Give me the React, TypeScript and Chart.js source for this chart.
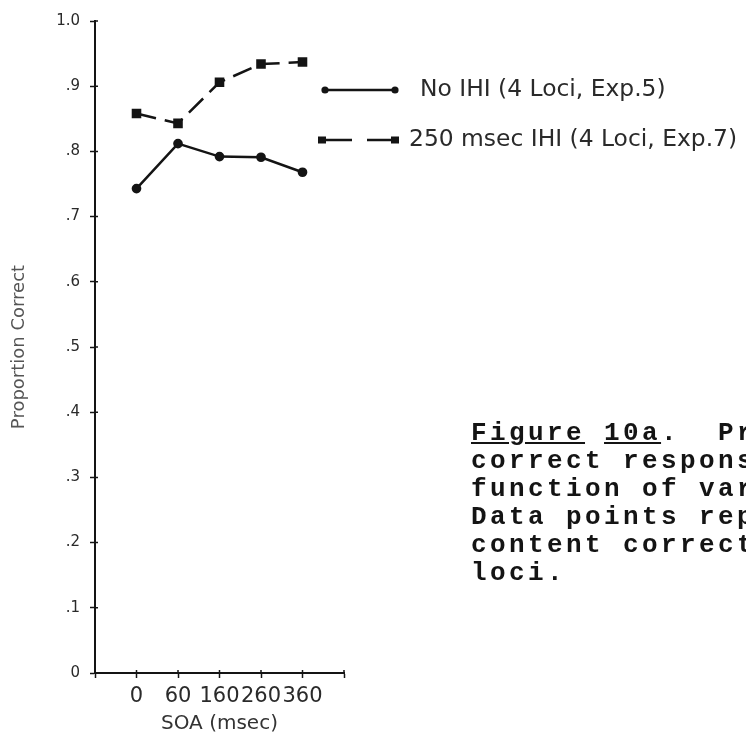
import React, { useEffect, useRef } from 'react';
import { Chart, registerables } from 'chart.js';

Chart.register(...registerables);

// SOA conditions (msec) along the x axis
const soaLabels = ['0', '60', '160', '260', '360'];
// Proportion correct per SOA
const noIhiValues = [0.743, 0.812, 0.792, 0.791, 0.768];
const ihi250Values = [0.858, 0.843, 0.906, 0.934, 0.937];
// y-axis tick labels, indexed by tenths
const yTickLabels = ['0', '.1', '.2', '.3', '.4', '.5', '.6', '.7', '.8', '.9', '1.0'];
const seriesNames = ['No IHI (4 Loci, Exp.5)', '250 msec IHI (4 Loci, Exp.7)'];
const captionLines = [
  'correct respons',
  'function of var',
  'Data points rep',
  'content correct',
  'loci.',
];

const INK = '#141414';

// Short tick stubs on the inner side of both axes, so each tick crosses its axis line
const innerTicks = {
  id: 'innerTicks',
  afterDraw(chart: any) {
    const ctx: CanvasRenderingContext2D = chart.ctx;
    const { x, y } = chart.scales;
    const area = chart.chartArea;
    ctx.save();
    ctx.strokeStyle = INK;
    ctx.lineWidth = 1.5;
    ctx.beginPath();
    y.ticks.forEach((t: any) => {
      const py = y.getPixelForValue(t.value);
      ctx.moveTo(area.left, py);
      ctx.lineTo(area.left + 3, py);
    });
    x.ticks.forEach((t: any) => {
      const px = x.getPixelForValue(t.value);
      ctx.moveTo(px, area.bottom);
      ctx.lineTo(px, area.bottom - 3);
    });
    ctx.stroke();
    ctx.restore();
  },
};

// Legend drawn beside the plot: sample line with a marker at each end, then the label
const sideLegend = {
  id: 'sideLegend',
  afterDraw(chart: any) {
    const ctx: CanvasRenderingContext2D = chart.ctx;
    const rows = [
      { y: 90, x0: 325, x1: 395, tx: 420 },
      { y: 140, x0: 322, x1: 395, tx: 409 },
    ];
    chart.data.datasets.forEach((ds: any, i: number) => {
      const r = rows[i];
      ctx.save();
      ctx.strokeStyle = ds.borderColor;
      ctx.fillStyle = ds.borderColor;
      ctx.lineWidth = ds.borderWidth;
      ctx.setLineDash(ds.legendDash || []);
      ctx.beginPath();
      ctx.moveTo(r.x0, r.y);
      ctx.lineTo(r.x1, r.y);
      ctx.stroke();
      ctx.setLineDash([]);
      [r.x0, r.x1].forEach((x) => {
        if (ds.pointStyle === 'rect') {
          ctx.fillRect(x - 4, r.y - 3.5, 8, 7);
        } else {
          ctx.beginPath();
          ctx.arc(x, r.y, 3.6, 0, Math.PI * 2);
          ctx.fill();
        }
      });
      ctx.fillStyle = '#2a2a2a';
      ctx.font = '23.4px "DejaVu Sans"';
      ctx.textBaseline = 'middle';
      ctx.textAlign = 'left';
      ctx.fillText(ds.label, r.tx, r.y);
      ctx.restore();
    });
  },
};

export default function App() {
  const canvasRef = useRef<HTMLCanvasElement | null>(null);

  useEffect(() => {
    const canvas = canvasRef.current;
    if (!canvas) return;
    const toPoints = (vals: number[]) => vals.map((v, i) => ({ x: i + 1, y: v }));

    const chart = new Chart(canvas, {
      type: 'line',
      data: {
        datasets: [
          {
            label: seriesNames[0],
            data: toPoints(noIhiValues),
            borderColor: INK,
            backgroundColor: INK,
            borderWidth: 2.5,
            pointStyle: 'circle',
            pointRadius: 3.6,
            pointBackgroundColor: INK,
            pointBorderColor: INK,
            tension: 0,
          } as any,
          {
            label: seriesNames[1],
            data: toPoints(ihi250Values),
            borderColor: INK,
            backgroundColor: INK,
            borderWidth: 2.5,
            borderDash: [20, 9],
            legendDash: [30, 15],
            pointStyle: 'rect',
            pointRadius: 5,
            pointBackgroundColor: INK,
            pointBorderColor: INK,
            tension: 0,
          } as any,
        ],
      },
      options: {
        responsive: false,
        animation: false,
        devicePixelRatio: 1,
        layout: { padding: { left: 0, top: 21, right: 402, bottom: 0 } },
        plugins: {
          legend: { display: false },
          tooltip: { enabled: false },
        },
        scales: {
          x: {
            type: 'linear',
            min: 0,
            max: 6,
            afterFit: (s: any) => {
              s.height = 68;
            },
            ticks: {
              stepSize: 1,
              padding: 6,
              color: '#2a2a2a',
              font: { family: 'DejaVu Sans', size: 21 },
              maxRotation: 0,
              autoSkip: false,
              callback: (v: any) => soaLabels[Math.round(Number(v)) - 1] ?? '',
            },
            grid: {
              drawOnChartArea: false,
              drawTicks: true,
              tickLength: 5,
              tickWidth: 1.5,
              color: INK,
            },
            border: { display: true, color: INK, width: 2 },
            title: {
              display: true,
              text: 'SOA (msec)',
              color: '#333',
              font: { family: 'DejaVu Sans', size: 20 },
              padding: { top: 0, bottom: 5 },
            },
          },
          y: {
            type: 'linear',
            min: 0,
            max: 1,
            afterFit: (s: any) => {
              s.width = 95;
            },
            ticks: {
              stepSize: 0.1,
              padding: 10,
              color: '#2a2a2a',
              font: { family: 'DejaVu Sans', size: 15 },
              callback: (v: any) => yTickLabels[Math.round(Number(v) * 10)] ?? '',
            },
            grid: {
              drawOnChartArea: false,
              drawTicks: true,
              tickLength: 5,
              tickWidth: 1.5,
              color: INK,
            },
            border: { display: true, color: INK, width: 2 },
            title: {
              display: true,
              text: 'Proportion Correct',
              color: '#555',
              font: { family: 'DejaVu Sans', size: 18 },
              padding: { top: 9, bottom: 0 },
            },
          },
        },
      },
      plugins: [innerTicks, sideLegend],
    } as any);

    return () => chart.destroy();
  }, []);

  return (
    <div
      style={{
        position: 'absolute',
        left: 0,
        top: 0,
        width: 746,
        height: 741,
        overflow: 'hidden',
        background: '#fff',
      }}
    >
      <canvas
        ref={canvasRef}
        width={746}
        height={741}
        style={{ display: 'block', width: 746, height: 741 }}
      />
      <div
        style={{
          position: 'absolute',
          left: 471,
          top: 419,
          fontFamily: '"Liberation Mono", monospace',
          fontWeight: 'bold',
          fontSize: 26,
          letterSpacing: '3.4px',
          lineHeight: '28px',
          whiteSpace: 'pre',
          color: INK,
        }}
      >
        <div>
          <u>Figure</u> <u>10a</u>.{'  '}Pr
        </div>
        {captionLines.map((line) => (
          <div key={line}>{line}</div>
        ))}
      </div>
    </div>
  );
}
